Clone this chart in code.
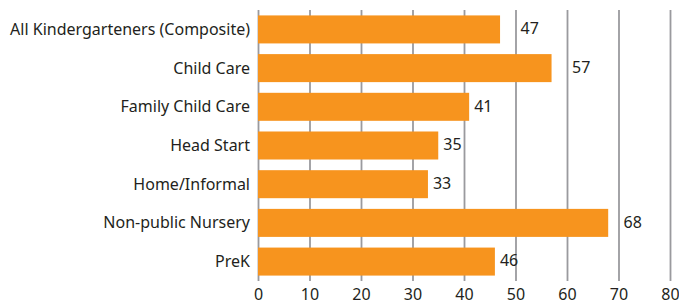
<!DOCTYPE html>
<html>
<head>
<meta charset="utf-8">
<script src="https://cdn.jsdelivr.net/npm/d3@7"></script>
<style>
  body { margin: 0; background: #fff; }
  svg { display: block; }
</style>
</head>
<body>
<div id="wrapper"></div>
<script>
// Data
const categories = [
  "All Kindergarteners (Composite)",
  "Child Care",
  "Family Child Care",
  "Head Start",
  "Home/Informal",
  "Non-public Nursery",
  "PreK",
];
const values = [47, 57, 41, 35, 33, 68, 46];
const xTicks = [0, 10, 20, 30, 40, 50, 60, 70, 80];

const dataset = categories.map((c, i) => ({ category: c, value: values[i] }));

// Sizing
const dimensions = {
  width: 679,
  height: 306,
  margins: { top: 10, right: 9, bottom: 25, left: 258 },
};
dimensions.boundedWidth =
  dimensions.width - dimensions.margins.left - dimensions.margins.right;
dimensions.boundedHeight =
  dimensions.height - dimensions.margins.top - dimensions.margins.bottom;

const textColor = "#231f20";
const gridColor = "#9a9a9e";
const barColor = "#f7941e";
const fontFamily = "'Noto Sans', 'Open Sans', sans-serif";
const fontSize = "16px";

const wrapper = d3
  .select("#wrapper")
  .append("svg")
  .attr("width", dimensions.width)
  .attr("height", dimensions.height);

const bounds = wrapper
  .append("g")
  .attr(
    "transform",
    `translate(${dimensions.margins.left},${dimensions.margins.top})`
  );

// Scales
const xScale = d3
  .scaleLinear()
  .domain([0, 80])
  .range([0, dimensions.boundedWidth]);

const yScale = d3
  .scaleBand()
  .domain(categories)
  .range([0, dimensions.boundedHeight])
  .paddingInner(0.276)
  .paddingOuter(0.14);

// Grid + x axis
const xAxis = bounds
  .append("g")
  .attr("transform", `translate(0,${dimensions.boundedHeight})`)
  .call(
    d3
      .axisBottom(xScale)
      .tickValues(xTicks)
      .tickSize(-dimensions.boundedHeight)
      .tickPadding(8)
  );
xAxis.select(".domain").remove();
xAxis
  .selectAll(".tick line")
  .attr("stroke", gridColor)
  .attr("stroke-width", 1.8);
xAxis
  .selectAll(".tick text")
  .attr("fill", textColor)
  .style("font-size", fontSize)
  .style("font-family", fontFamily);

// Bars
bounds
  .append("g")
  .selectAll("rect")
  .data(dataset)
  .join("rect")
  .attr("x", xScale(0))
  .attr("y", (d) => yScale(d.category))
  .attr("width", (d) => xScale(d.value) - xScale(0))
  .attr("height", yScale.bandwidth())
  .attr("fill", barColor);

// Value labels: step past a gridline that sits right after the bar end
const labelX = (d) => {
  const end = xScale(d.value);
  const nextGrid = xTicks.map(xScale).find((g) => g > end + 1);
  if (nextGrid !== undefined && nextGrid - end < 18) return nextGrid + 5;
  return end + 5;
};

bounds
  .append("g")
  .selectAll("text")
  .data(dataset)
  .join("text")
  .attr("x", labelX)
  .attr("y", (d) => yScale(d.category) + yScale.bandwidth() / 2)
  .attr("dy", "0.3em")
  .text((d) => d.value)
  .attr("fill", textColor)
  .style("font-size", fontSize)
  .style("font-family", fontFamily);

// Category labels
bounds
  .append("g")
  .selectAll("text")
  .data(dataset)
  .join("text")
  .attr("x", -8)
  .attr("y", (d) => yScale(d.category) + yScale.bandwidth() / 2)
  .attr("dy", "0.35em")
  .attr("text-anchor", "end")
  .text((d) => d.category)
  .attr("fill", textColor)
  .style("font-size", fontSize)
  .style("font-family", fontFamily);
</script>
</body>
</html>
